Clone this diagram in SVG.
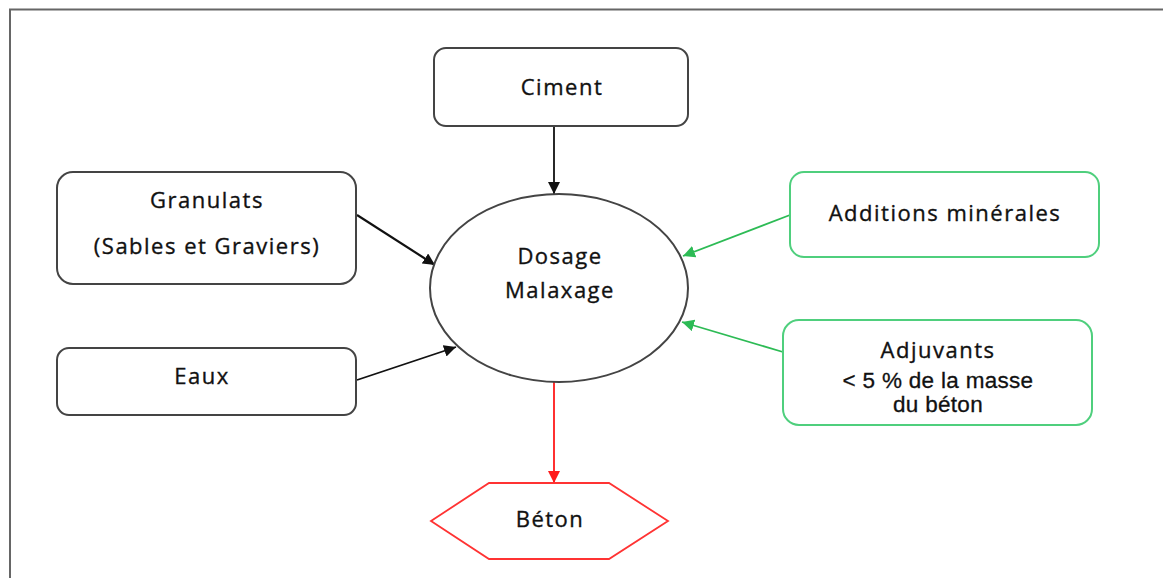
<svg xmlns="http://www.w3.org/2000/svg" width="1163" height="578" viewBox="0 0 1163 578">
  <style>
    .box { fill: #fff; stroke: #444; stroke-width: 2; }
    .gbox { fill: #fff; stroke: #4fcf7d; stroke-width: 2; }
    .lbl { font-family: "Open Sans", "Noto Sans", sans-serif; font-size: 22px; letter-spacing: 1.5px; fill: #111; stroke: #111; stroke-width: 0.35px; text-anchor: middle; }
    .sm { font-family: "Liberation Sans", Arial, sans-serif; font-size: 22.5px; letter-spacing: 0.3px; fill: #111; stroke: #111; stroke-width: 0.3px; text-anchor: middle; }
    .frame { fill: none; stroke: #666; stroke-width: 2; }
  </style>
  <defs>
    <marker id="ab" viewBox="0 0 10 10" refX="10" refY="5" markerWidth="12" markerHeight="12" orient="auto" markerUnits="userSpaceOnUse">
      <path d="M0,0 L10,5 L0,10 Z" fill="#111"/>
    </marker>
    <marker id="ag" viewBox="0 0 10 10" refX="10" refY="5" markerWidth="12" markerHeight="12" orient="auto" markerUnits="userSpaceOnUse">
      <path d="M0,0 L10,5 L0,10 Z" fill="#2dbb55"/>
    </marker>
    <marker id="ar" viewBox="0 0 10 10" refX="10" refY="5" markerWidth="12" markerHeight="12" orient="auto" markerUnits="userSpaceOnUse">
      <path d="M0,0 L10,5 L0,10 Z" fill="#ff1a1a"/>
    </marker>
  </defs>
  <rect width="1163" height="578" fill="#fff"/>
  <path class="frame" d="M10,578 L10,9.5 L1163,9.5"/>

  <g id="connectors" fill="none" stroke-width="1.8">
    <line x1="554" y1="126" x2="554" y2="194" stroke="#111" marker-end="url(#ab)"/>
    <line x1="357" y1="215" x2="435" y2="265" stroke="#111" stroke-width="2.2" marker-end="url(#ab)"/>
    <line x1="357" y1="380" x2="456" y2="347" stroke="#111" marker-end="url(#ab)"/>
    <line x1="790" y1="215" x2="683" y2="256" stroke="#2dbb55" marker-end="url(#ag)"/>
    <line x1="783" y1="352" x2="682" y2="322" stroke="#2dbb55" marker-end="url(#ag)"/>
    <line x1="554" y1="382" x2="554" y2="483" stroke="#ff1a1a" marker-end="url(#ar)"/>
  </g>

  <g id="ciment">
    <rect class="box" x="434" y="48" width="254" height="78" rx="12"/>
    <text class="lbl" x="562" y="95">Ciment</text>
  </g>
  <g id="granulats">
    <rect class="box" x="57" y="172" width="299" height="112" rx="16"/>
    <text class="lbl" x="207" y="208">Granulats</text>
    <text class="lbl" x="207" y="254">(Sables et Graviers)</text>
  </g>
  <g id="eaux">
    <rect class="box" x="57" y="348" width="299" height="67" rx="12"/>
    <text class="lbl" x="202" y="384">Eaux</text>
  </g>
  <g id="dosage">
    <ellipse class="box" cx="559" cy="288" rx="129" ry="94" stroke-width="1.8"/>
    <text class="lbl" x="560" y="264">Dosage</text>
    <text class="lbl" x="560" y="298">Malaxage</text>
  </g>
  <g id="additions">
    <rect class="gbox" x="790" y="172" width="309" height="85" rx="14"/>
    <text class="lbl" x="945" y="221">Additions minérales</text>
  </g>
  <g id="adjuvants">
    <rect class="gbox" x="783" y="320" width="309" height="105" rx="16"/>
    <text class="lbl" x="938" y="358">Adjuvants</text>
    <text class="sm" x="938" y="388">&lt; 5 % de la masse</text>
    <text class="sm" x="938" y="412">du béton</text>
  </g>
  <g id="beton">
    <polygon points="431,521 489,483 609,483 668,521 609,559 489,559" fill="#fff" stroke="#ff3333" stroke-width="1.8"/>
    <text class="lbl" x="550" y="527">Béton</text>
  </g>
</svg>
